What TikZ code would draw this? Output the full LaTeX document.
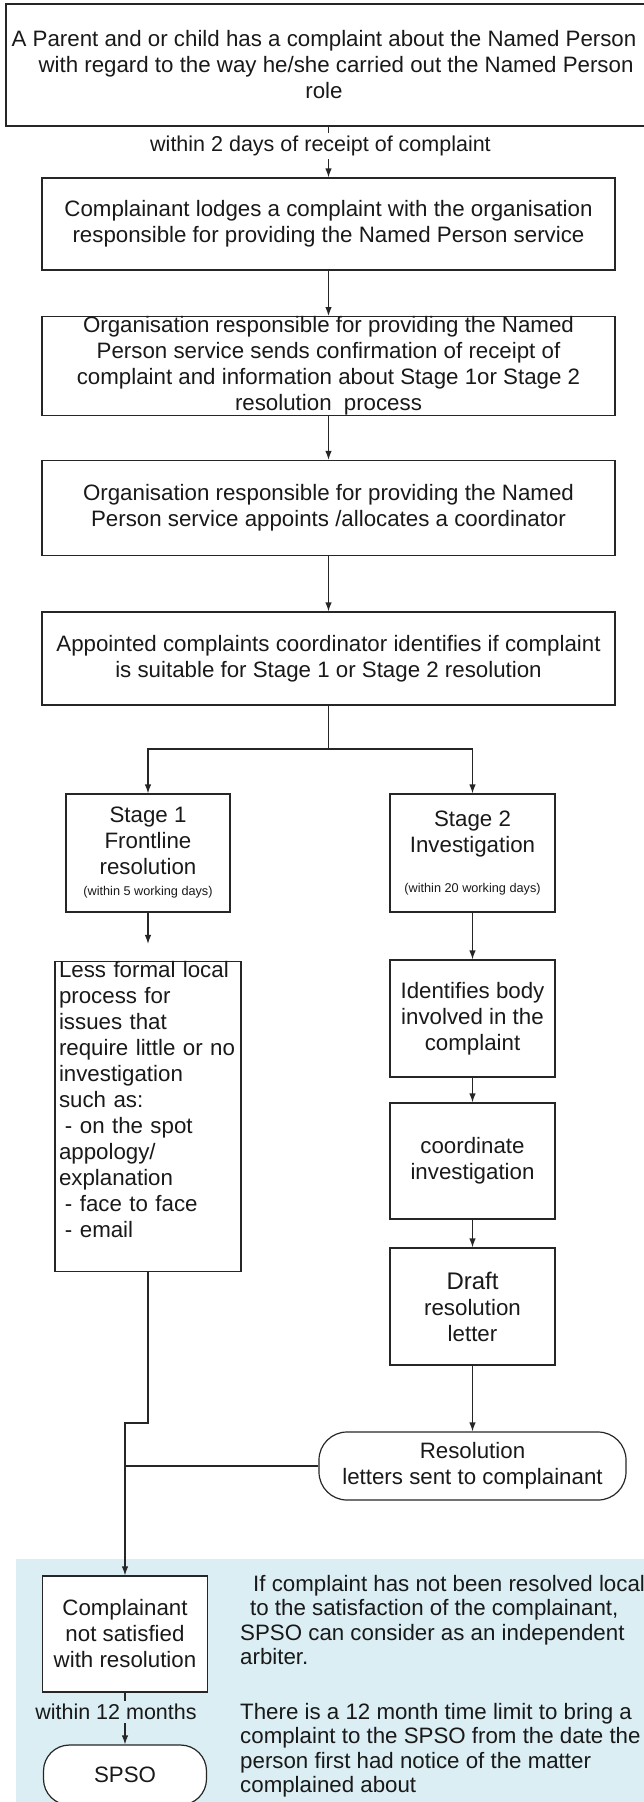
\documentclass[tikz,border=0pt]{standalone}
\usepackage{fontspec}
\setmainfont{Liberation Sans}
\usetikzlibrary{arrows.meta}
\definecolor{notefill}{HTML}{DAEEF3}
\tikzset{
  box/.style={draw=black!85, line width=1.2pt, align=center, inner sep=0pt},
  roundbox/.style={box, rounded corners=28pt},
  link/.style={draw=black!85, line width=1.2pt},
  conn/.style={link, ->},
  lbl/.style={font=\fontsize{21.5}{24}\selectfont, inner sep=3pt, pos=0.38}
}
\newcommand{\smalltxt}[1]{{\fontsize{12.7}{15}\selectfont #1}}

\begin{document}
\begin{tikzpicture}[x=1pt, y=-1pt, >={Latex[length=9pt,width=6.5pt]},
  font=\fontsize{22.3}{26}\selectfont, text=black!90]
\useasboundingbox (0,0) rectangle (643,1802);
% Blue panel at the bottom
\fill[notefill] (16,1559) rectangle (660,1815);
% Main column
\node[box, minimum width=660, minimum height=122] (parent) at (336,65)
  {A Parent and or child has a complaint about the Named Person\hspace*{24pt}\\
   with regard to the way he/she carried out the Named Person\hspace*{24pt}\\role\hspace*{24pt}};
\node[box, minimum width=573, minimum height=92] (lodge) at (328.5,224)
  {Complainant lodges a complaint with the organisation\\
   responsible for providing the Named Person service};
\node[box, minimum width=573, minimum height=96] (confirm) at (328.5,366)
  {Organisation responsible for providing the Named\\
   Person service sends confirmation of receipt of\\
   complaint and information about Stage 1or Stage 2\\
   resolution\hspace*{6pt} process};
\node[box, minimum width=573, minimum height=95] (appoint) at (328.5,508)
  {Organisation responsible for providing the Named\\
   Person service appoints /allocates a coordinator};
\node[box, minimum width=573, minimum height=93] (identify) at (328.5,658.5)
  {Appointed complaints coordinator identifies if complaint\\
   is suitable for Stage 1 or Stage 2 resolution};
\coordinate (split) at (328.5,749);
% Stage 1 column
\node[box, minimum width=164, minimum height=118] (stage1) at (148,853)
  {Stage 1\\Frontline\\resolution\\[-5pt]\smalltxt{(within 5 working days)}};
\node[box, align=left, text width=184, inner xsep=1pt, minimum height=309] (informal) at (148,1116.5)
  {\leftskip=3pt Less formal local\\process for\\issues that\\require little or no\\investigation\\such as:\\
   \hspace*{6pt}- on the spot\\appology/\\explanation\\\hspace*{6pt}- face to face\\\hspace*{6pt}- email\\\strut};
% Stage 2 column
\node[box, minimum width=165, minimum height=118] (stage2) at (472.5,853)
  {Stage 2\\Investigation\\[14pt]\smalltxt{(within 20 working days)}};
\node[box, minimum width=165, minimum height=117] (body) at (472.5,1018.5)
  {Identifies body\\involved in the\\complaint};
\node[box, minimum width=165, minimum height=116] (coord) at (472.5,1161)
  {coordinate\\investigation};
\node[box, minimum width=165, minimum height=117] (draft) at (472.5,1306.5)
  {{\fontsize{24}{26}\selectfont Draft}\\resolution\\letter};
\node[roundbox, minimum width=307, minimum height=68] (sent) at (472.5,1466)
  {Resolution\\letters sent to complainant};
% SPSO part
\coordinate (jog) at (125,1423);
\node[box, fill=white, minimum width=165, minimum height=116] (notsat) at (125,1634)
  {Complainant\\not satisfied\\with resolution};
\node[roundbox, fill=white, rounded corners=26pt, minimum width=163, minimum height=60] (spso) at (125,1775)
  {SPSO};
\node[anchor=north west, align=left, inner sep=0pt, font=\fontsize{22.3}{24.5}\selectfont] (note) at (240,1575)
  {\hspace*{13pt}If complaint has not been resolved locally\\
   \hspace*{10pt}to the satisfaction of the complainant,\\
   SPSO can consider as an independent\\arbiter.\\[30pt]
   There is a 12 month time limit to bring a\\
   complaint to the SPSO from the date the\\
   person first had notice of the matter\\complained about};
% Connectors
\draw[conn] (parent.south -| lodge) -- node[lbl, fill=white, xshift=-8pt] (daylbl)
  {within 2 days of receipt of complaint} (lodge);
\foreach \a/\b in {lodge/confirm, confirm/appoint, appoint/identify}
  \draw[conn] (\a) -- (\b);
\draw[link] (identify) -- (split);
\draw[conn] (split) -| (stage1);
\draw[conn] (split) -| (stage2);
\draw[conn, shorten >=17pt] (stage1) -- (informal);
\foreach \a/\b in {stage2/body, body/coord, coord/draft, draft/sent}
  \draw[conn] (\a) -- (\b);
\draw[conn] (informal.south) |- (jog) -- (notsat.north);
\draw[link] (sent.west) -- (sent.west -| jog);
\draw[conn] (notsat) -- node[lbl, fill=notefill, xshift=-9pt] (monthlbl)
  {within 12 months} (spso);
\end{tikzpicture}
\end{document}
